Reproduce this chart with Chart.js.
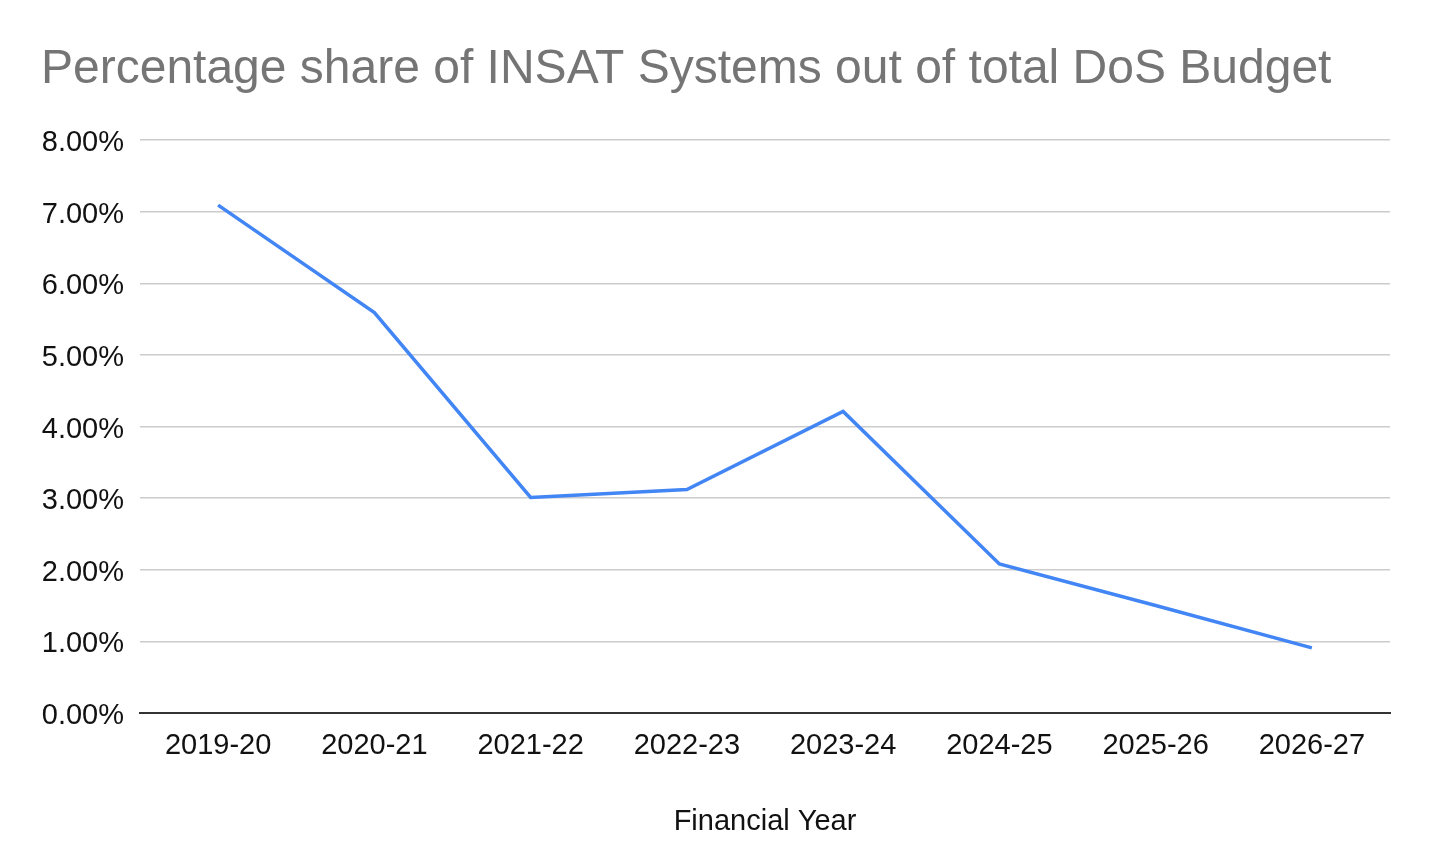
<!DOCTYPE html>
<html>
<head>
<meta charset="utf-8">
<title>INSAT share of DoS budget</title>
<script src="https://cdn.jsdelivr.net/npm/chart.js@4.4.1/dist/chart.umd.min.js"></script>
<style>
    html, body { margin: 0; padding: 0; background: #fff; }
    #wrap { width: 1456px; height: 861px; }
</style>
</head>
<body>
<div id="wrap"><canvas id="insatChart" width="1456" height="861"></canvas></div>
<script>
// ---------------------------------------------------------------
// Dữ liệu
// ---------------------------------------------------------------
const years = ['2019-20', '2020-21', '2021-22', '2022-23', '2023-24', '2024-25', '2025-26', '2026-27'];
const insatShare = [7.09, 5.59, 3.01, 3.12, 4.21, 2.08, 1.50, 0.91];   // % of total DoS budget
const yTicks = [0, 1, 2, 3, 4, 5, 6, 7, 8];

const FONT = "'Liberation Sans', Arial, sans-serif";

function formatPercent(v) {
    return v.toFixed(2) + '%';
}

// ---------------------------------------------------------------
// Vẽ biểu đồ
// ---------------------------------------------------------------
function drawChart() {
    const ctx = document.getElementById('insatChart').getContext('2d');

    new Chart(ctx, {
        type: 'line',
        data: {
            labels: years,
            datasets: [{
                label: 'Percentage share',
                data: insatShare,
                borderColor: '#4285f4',
                borderWidth: 3.5,
                pointRadius: 0,
                pointHoverRadius: 0,
                tension: 0,
                fill: false
            }]
        },
        options: {
            responsive: false,
            animation: false,
            devicePixelRatio: 1,
            layout: {
                padding: { left: 41, right: 66, top: 0, bottom: 0 }
            },
            plugins: {
                legend: { display: false },
                tooltip: { enabled: false },
                title: {
                    display: true,
                    text: 'Percentage share of INSAT Systems out of total DoS Budget',
                    align: 'start',
                    color: '#757575',
                    font: { family: FONT, size: 48, weight: 'normal', lineHeight: 1 },
                    padding: { top: 46, bottom: 46 }
                }
            },
            scales: {
                x: {
                    type: 'category',
                    offset: true,
                    grid: { display: false, drawTicks: false },
                    border: { display: true, color: '#333333', width: 2 },
                    ticks: {
                        color: '#111111',
                        padding: 16,
                        maxRotation: 0,
                        font: { family: FONT, size: 29 }
                    },
                    title: {
                        display: true,
                        text: 'Financial Year',
                        color: '#111111',
                        font: { family: FONT, size: 29 },
                        padding: { top: 0, bottom: 22 }
                    },
                    afterFit: (scale) => { scale.height = 148; }
                },
                y: {
                    min: 0,
                    max: 8,
                    afterBuildTicks: (scale) => {
                        scale.ticks = yTicks.map(v => ({ value: v }));
                    },
                    grid: {
                        drawTicks: false,
                        color: (c) => (c.tick && c.tick.value === 0) ? 'rgba(0,0,0,0)' : '#cccccc',
                        lineWidth: 1.5
                    },
                    border: { display: false },
                    ticks: {
                        color: '#111111',
                        padding: 16,
                        labelOffset: 3,
                        font: { family: FONT, size: 29 },
                        callback: (v) => formatPercent(v)
                    },
                    afterFit: (scale) => { scale.width = 99; }
                }
            }
        }
    });
}

document.addEventListener('DOMContentLoaded', () => {
    drawChart();
});
</script>
</body>
</html>
